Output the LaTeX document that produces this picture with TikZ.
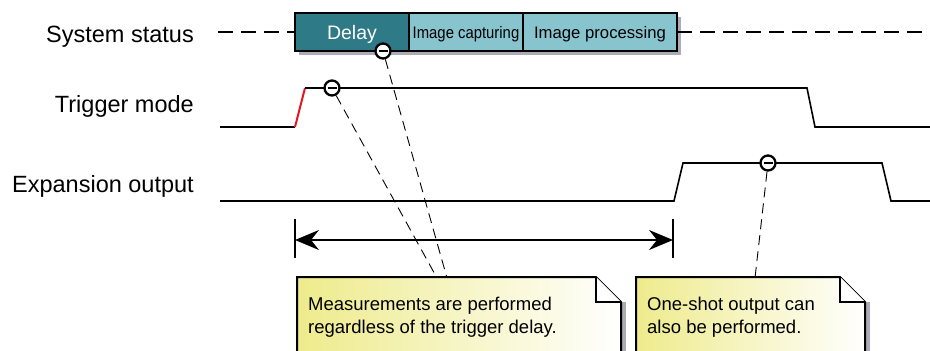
\documentclass[tikz,border=0pt]{standalone}
\usepackage{fontspec}
\setmainfont{Liberation Sans}
\usetikzlibrary{arrows.meta,positioning,calc}
\definecolor{delayteal}{RGB}{46,122,135}
\definecolor{phaseteal}{RGB}{136,196,206}
\definecolor{noteyellow}{RGB}{238,235,140}
\definecolor{shadowgray}{RGB}{172,172,182}
\definecolor{edgered}{RGB}{232,20,30}
\tikzset{
    rowlabel/.style={anchor=base east, inner sep=0pt, font=\fontsize{23.5}{26}\selectfont},
    phasebox/.style={draw, line width=2pt, fill=phaseteal, minimum height=38pt, inner sep=0pt, outer sep=0pt, text height=12pt, text depth=0pt, font=\fontsize{16.7}{19}\selectfont},
    signal/.style={line width=1.6pt},
    marker/.style={circle, draw, fill=white, line width=2.3pt, minimum size=15pt, inner sep=0pt,
        path picture={\draw[line width=1.1pt] ($(path picture bounding box.center)+(-4.5pt,0)$) -- ($(path picture bounding box.center)+(4.5pt,0)$);}},
    leader/.style={line width=0.9pt, dash pattern=on 10pt off 6pt},
    statusdash/.style={line width=1.2pt, dash pattern=on 15pt off 8pt},
    notebox/.style={anchor=north west, minimum height=90pt, inner sep=0pt, outer sep=0pt, left color=noteyellow, right color=white},
    noteline/.style={line width=2pt, line join=miter},
    notetext/.style={anchor=north west, align=left, inner sep=0pt, font=\fontsize{18.5}{23}\selectfont},
    dimarrow/.style={{Stealth[length=24pt,width=20pt,inset=8pt]}-{Stealth[length=24pt,width=20pt,inset=8pt]}, line width=1.3pt}
}

\begin{document}
\begin{tikzpicture}[x=1pt, y=-1pt]
    \useasboundingbox (0,0) rectangle (930,351);
    \clip (0,0) rectangle (930,351);

    \node[rowlabel] (statuslabel) at (194,42) {System status};
    \node[rowlabel] (triglabel) at (194,112) {Trigger mode};
    \node[rowlabel] (explabel) at (194,192) {Expansion output};

    % system status bar
    \fill[shadowgray] (299,17) rectangle (681,55);
    \node[phasebox, fill=delayteal, text=white, minimum width=114pt, anchor=north west, text height=14pt, font=\fontsize{19.5}{22}\selectfont] (delay) at (295,13) {Delay};
    \node[phasebox, minimum width=114pt, right=0pt of delay] (capture) {\scalebox{0.89}[1]{Image capturing}};
    \node[phasebox, minimum width=154pt, right=0pt of capture] (process) {Image processing};
    \coordinate (statusstart) at (218,32);
    \coordinate (statusend) at (930,32);
    \draw[statusdash] (statusstart) -- (delay.west);
    \draw[statusdash] (process.east) -- (statusend);

    % signals
    \draw[signal] (220,127) -- (295,127);
    \draw[signal, edgered, line width=2pt] (295,127) -- (305,88);
    \draw[signal] (305,88) -- (807,88) -- (815,127) -- (930,127);
    \draw[signal] (220,201) -- (674,201) -- (683,163) -- (882,163) -- (891,201) -- (930,201);

    % measuring span
    \coordinate (spanleft) at (295,240);
    \coordinate (spanright) at (673,240);
    \draw[line width=1.3pt] (295,219) -- (295,258);
    \draw[line width=1.3pt] (673,219) -- (673,258);
    \draw[dimarrow] (spanleft) -- (spanright);

    % markers and leaders
    \node[marker] (delaypin) at (383,51) {};
    \node[marker] (trigpin) at (332,88) {};
    \node[marker] (exppin) at (768,163) {};
    \coordinate (lead1) at (437,278);
    \coordinate (lead2) at (447,278);
    \coordinate (lead3) at (755,278);
    \draw[leader] (trigpin) -- (lead1);
    \draw[leader] (delaypin) -- (lead2);
    \draw[leader] (exppin) -- (lead3);

    % notes
    \fill[shadowgray] (621,302) rectangle (626,360);
    \fill[shadowgray] (865,302) rectangle (870,360);
    \node[notebox, minimum width=324pt] (note1) at (297,277) {};
    \node[notebox, minimum width=229pt] (note2) at (636,277) {};
    \foreach \n in {note1,note2} {
        \fill[white] ([xshift=-25pt]\n.north east) -- (\n.north east) -- ([yshift=-25pt]\n.north east) -- cycle;
        \draw[noteline] (\n.south west) -- (\n.north west) -- ([xshift=-25pt]\n.north east) -- ([yshift=-25pt]\n.north east) -- (\n.south east);
        \filldraw[noteline, fill=white] ([xshift=-25pt]\n.north east) -- ([xshift=-25pt,yshift=-25pt]\n.north east) -- ([yshift=-25pt]\n.north east);
    }
    \node[notetext] (note1text) at ([xshift=11pt,yshift=-19.5pt]note1.north west) {Measurements are performed\\regardless of the trigger delay.};
    \node[notetext] (note2text) at ([xshift=11pt,yshift=-19.5pt]note2.north west) {One-shot output can\\also be performed.};
\end{tikzpicture}
\end{document}
